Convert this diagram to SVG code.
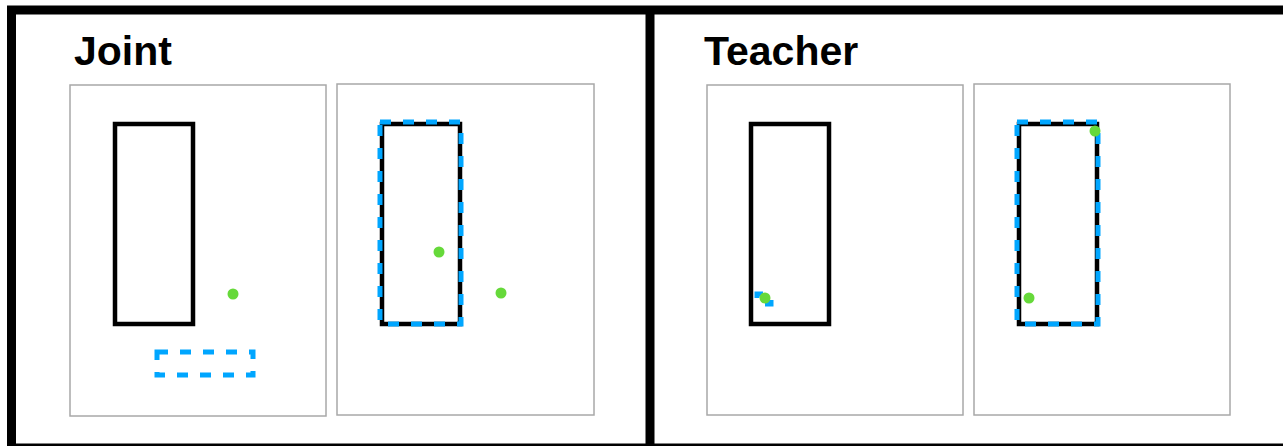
<svg xmlns="http://www.w3.org/2000/svg" width="1283" height="446" viewBox="0 0 1283 446">
<style>
.frame{fill:none;stroke:#000;stroke-width:9}
.panel{fill:#fff;stroke:#a8a8a8;stroke-width:1.5}
.box{fill:none;stroke:#000;stroke-width:4.5}
.dash{fill:none;stroke:#00a6ff;stroke-width:5;stroke-dasharray:11 12}
.dot{fill:#66d93a}
.title{font-family:"Liberation Sans",Arial,sans-serif;font-weight:bold;font-size:41px;fill:#000}
</style>
<rect width="1283" height="446" fill="#fff"/>
<g id="frame">
<rect class="frame" x="11.5" y="10" width="1290" height="438"/>
<line x1="650" y1="10" x2="650" y2="446" stroke="#000" stroke-width="9"/>
</g>
<text class="title" x="74" y="65">Joint</text>
<text class="title" x="704" y="65">Teacher</text>
<g id="panel1">
<rect class="panel" x="70" y="85" width="256" height="331"/>
<rect class="box" x="115" y="124" width="78" height="200"/>
<rect class="dash" x="157" y="352" width="96" height="23"/>
<circle class="dot" cx="233" cy="294" r="5.5"/>
</g>
<g id="panel2">
<rect class="panel" x="337" y="84" width="257" height="331"/>
<rect class="box" x="382" y="124" width="78" height="200"/>
<rect class="dash" x="380" y="122" width="81" height="202"/>
<circle class="dot" cx="439" cy="252" r="5.5"/>
<circle class="dot" cx="501" cy="293" r="5.5"/>
</g>
<g id="panel3">
<rect class="panel" x="707" y="85" width="256" height="330"/>
<rect class="box" x="751" y="124" width="78" height="200"/>
<rect class="dash" x="757" y="294" width="14" height="10" style="stroke-dasharray:6 14 10 14 4"/>
<circle class="dot" cx="765" cy="298" r="5.5"/>
</g>
<g id="panel4">
<rect class="panel" x="974" y="84" width="256" height="331"/>
<rect class="box" x="1019" y="124" width="78" height="200"/>
<rect class="dash" x="1017" y="122" width="81" height="202"/>
<circle class="dot" cx="1095" cy="131" r="5.5"/>
<circle class="dot" cx="1029" cy="298" r="5.5"/>
</g>
</svg>
